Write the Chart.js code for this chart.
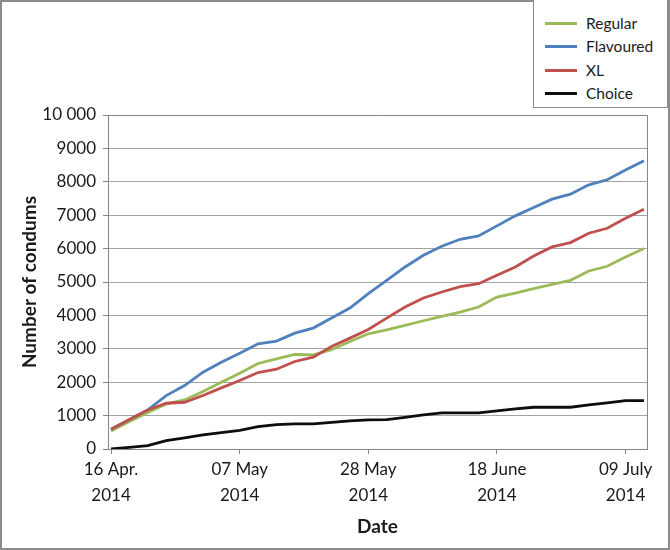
<!DOCTYPE html>
<html><head><meta charset="utf-8">
<script src="https://cdn.jsdelivr.net/npm/chart.js@4.4.1/dist/chart.umd.min.js"></script>
<style>
html,body{margin:0;padding:0;background:#fff;}
#wrap{position:relative;width:670px;height:550px;overflow:hidden;}
#legend{position:absolute;left:533px;top:-2px;width:135px;height:110px;border:1px solid #8a8a8a;background:#fff;box-sizing:border-box;font-family:Lato, sans-serif;font-size:15.5px;color:#1a1a1a;}
.item{position:absolute;left:11px;height:20px;display:flex;align-items:center;white-space:nowrap;}
.swatch{width:32px;height:3px;margin-right:9px;}
</style></head><body>
<div id="wrap"><canvas id="c" width="670" height="550"></canvas><div id="legend"></div></div>
<script>
// ---- data ----
const dates = ["2014-04-16","2014-04-19","2014-04-22","2014-04-25","2014-04-28","2014-05-01","2014-05-04","2014-05-07","2014-05-10","2014-05-13",
               "2014-05-16","2014-05-19","2014-05-22","2014-05-25","2014-05-28","2014-05-31","2014-06-03","2014-06-06","2014-06-09","2014-06-12",
               "2014-06-15","2014-06-18","2014-06-21","2014-06-24","2014-06-27","2014-06-30","2014-07-03","2014-07-06","2014-07-09","2014-07-12"];
const seriesNames = ["Regular","Flavoured","XL","Choice"];
const regular   = [540,820,1090,1350,1470,1720,2000,2270,2560,2700,2830,2820,2970,3220,3450,3570,3700,3840,3970,4100,4250,4550,4670,4800,4930,5050,5330,5470,5750,6000];
const flavoured = [590,880,1170,1600,1900,2300,2600,2870,3150,3230,3470,3620,3920,4220,4650,5050,5450,5800,6070,6280,6380,6680,6980,7230,7480,7630,7910,8060,8350,8630];
const xl        = [590,880,1170,1370,1400,1600,1830,2050,2290,2390,2620,2750,3070,3320,3580,3920,4250,4520,4700,4860,4950,5200,5450,5780,6050,6180,6460,6610,6910,7180];
const choice    = [0,50,100,250,330,420,490,560,670,730,750,750,800,840,870,880,950,1020,1080,1080,1080,1140,1200,1250,1250,1250,1320,1380,1450,1450];
const xTickDates  = ["2014-04-16","2014-05-07","2014-05-28","2014-06-18","2014-07-09"];
const xTickLabels = [["16 Apr.","2014"],["07 May","2014"],["28 May","2014"],["18 June","2014"],["09 July","2014"]];
const yTickLabels = ["0","1000","2000","3000","4000","5000","6000","7000","8000","9000","10 000"];

// ---- style ----
const colors = ["#9BBB59","#4F81BD","#C0504D","#0d0d0d"];
const seriesValues = [regular, flavoured, xl, choice];
const axisColor = "#868686";
const gridColor = "#a3a3a3";
const FONT = "Lato, 'Open Sans', sans-serif";

const dayOf = s => (Date.parse(s) - Date.parse(dates[0])) / 86400000;

const datasets = seriesNames.map((name, i) => ({
  label: name,
  data: dates.map((d, j) => ({x: dayOf(d), y: seriesValues[i][j]})),
  borderColor: colors[i],
  backgroundColor: colors[i],
  borderWidth: 2.8,
  pointRadius: 0,
  tension: 0,
  fill: false,
  order: 4 - i
}));

const framePlugin = {
  id: 'frame',
  afterDraw(chart) {
    const {ctx, chartArea: a} = chart;
    ctx.save();
    ctx.strokeStyle = axisColor;
    ctx.lineWidth = 1;
    ctx.beginPath();
    ctx.moveTo(a.left, Math.round(a.top) + 0.5);
    ctx.lineTo(Math.round(a.right) + 0.5, Math.round(a.top) + 0.5);
    ctx.lineTo(Math.round(a.right) + 0.5, a.bottom);
    ctx.stroke();
    ctx.strokeStyle = "#8c8c8c";
    ctx.lineWidth = 2;
    ctx.strokeRect(1, 1, chart.width - 2, chart.height - 2);
    ctx.restore();
  }
};

Chart.defaults.font.family = FONT;
Chart.defaults.color = "#1a1a1a";

const chart = new Chart(document.getElementById('c'), {
  type: 'line',
  data: {datasets},
  options: {
    responsive: false,
    animation: false,
    events: [],
    layout: {padding: {left: 14, top: 115, right: 23, bottom: 8}},
    plugins: {legend: {display: false}, tooltip: {enabled: false}},
    scales: {
      x: {
        type: 'linear',
        min: dayOf(dates[0]) - 0.5,
        max: dayOf(dates[dates.length - 1]) + 0.5,
        afterBuildTicks: s => { s.ticks = xTickDates.map(d => ({value: dayOf(d)})); },
        afterFit: s => { s.height = 93; },
        ticks: {
          autoSkip: false, maxRotation: 0, padding: 3,
          font: {size: 17, lineHeight: 1.5}, color: "#1a1a1a",
          callback: (v, i) => xTickLabels[i]
        },
        grid: {drawOnChartArea: false, drawTicks: true, tickLength: 5, color: axisColor},
        border: {color: axisColor, width: 1},
        title: {display: true, text: "Date", font: {size: 19, weight: 'bold'}, color: "#1a1a1a", padding: {top: 2, bottom: 4}}
      },
      y: {
        min: 0, max: 10000,
        ticks: {stepSize: 1000, padding: 7, font: {size: 17}, color: "#1a1a1a",
                callback: (v, i) => yTickLabels[i]},
        afterFit: s => { s.width = 94; },
        grid: {color: gridColor, lineWidth: 1, tickLength: 5, tickColor: axisColor},
        border: {color: axisColor, width: 1},
        title: {display: true, text: "Number of condums", font: {size: 19, weight: 'bold'}, color: "#1a1a1a", padding: {top: 4, bottom: 4}}
      }
    }
  },
  plugins: [framePlugin]
});

// legend (built from datasets)
const leg = document.getElementById('legend');
const rowY = [14, 37, 61, 84];
chart.data.datasets.forEach((ds, i) => {
  const it = document.createElement('div');
  it.className = 'item';
  it.style.top = rowY[i] + 'px';
  const sw = document.createElement('span');
  sw.className = 'swatch';
  sw.style.background = ds.borderColor;
  const tx = document.createElement('span');
  tx.textContent = ds.label;
  it.appendChild(sw); it.appendChild(tx);
  leg.appendChild(it);
});
</script>
</body></html>
